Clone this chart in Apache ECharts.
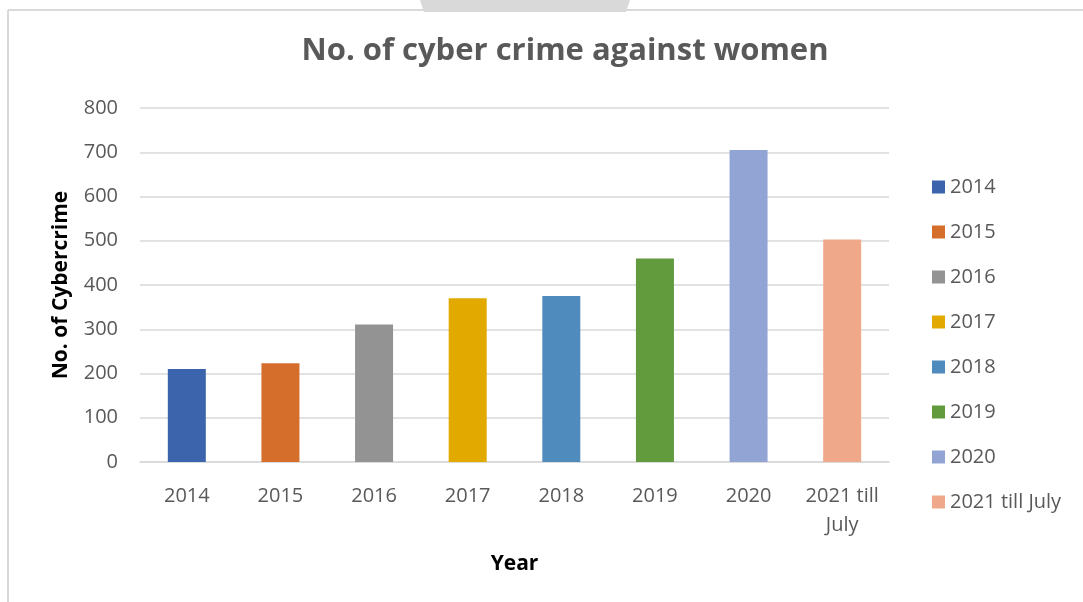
<!DOCTYPE html>
<html><head><meta charset="utf-8">
<script src="https://cdn.jsdelivr.net/npm/echarts@6/dist/echarts.min.js"></script>
<style>html,body{margin:0;padding:0;background:#fff}#c{width:1083px;height:602px}</style>
</head><body><div id="c"></div>
<script>
const categories = ['2014','2015','2016','2017','2018','2019','2020','2021 till July'];
const axisLabels = ['2014','2015','2016','2017','2018','2019','2020','2021 till\nJuly'];
const values = [210, 223, 311, 370, 375, 460, 705, 503];
const colors = ['#3C64AC','#D46E2A','#939393','#E2AA00','#508BBE','#629A3E','#91A4D4','#F0A88A'];
const yTicks = [0,100,200,300,400,500,600,700,800];

const font = '"Open Sans", "Noto Sans", sans-serif';
const series = categories.map((name, i) => ({
  name: name,
  type: 'bar',
  stack: 'all',
  barWidth: 38,
  itemStyle: { color: colors[i] },
  data: categories.map((c, j) => j === i ? values[i] : null)
}));

const chart = echarts.init(document.getElementById('c'));
chart.setOption({
  animation: false,
  backgroundColor: '#fff',
  title: {
    text: 'No. of cyber crime against women',
    left: 560, top: 31, textAlign: 'center',
    textStyle: { fontFamily: font, fontSize: 31, fontWeight: 'bold', color: '#595959' }
  },
  graphic: [
    { type: 'polygon', shape: { points: [[420,0],[630,0],[626,12],[424,12]] }, style: { fill: '#D9D9D9' }, z: -1 },
    { type: 'line', shape: { x1: 8, y1: 10, x2: 1083, y2: 10 }, style: { stroke: '#D9D9D9', lineWidth: 2 } },
    { type: 'line', shape: { x1: 8, y1: 10, x2: 8, y2: 602 }, style: { stroke: '#D9D9D9', lineWidth: 2 } }
  ],
  legend: {
    orient: 'vertical', left: 927, top: 172, itemGap: 25,
    itemWidth: 13, itemHeight: 13, icon: 'rect',
    data: categories,
    textStyle: { fontFamily: font, fontSize: 20, color: '#595959' }
  },
  grid: { left: 140, right: 194, top: 108, bottom: 140 },
  xAxis: {
    type: 'category', data: categories,
    name: 'Year', nameLocation: 'middle', nameGap: 92,
    nameTextStyle: { fontFamily: font, fontSize: 21, fontWeight: 'bold', color: '#000' },
    axisLine: { lineStyle: { color: '#D9D9D9', width: 1.5 } },
    axisTick: { show: false },
    axisLabel: { interval: 0, fontFamily: font, fontSize: 20, color: '#595959', margin: 20, lineHeight: 29,
      formatter: (v, i) => axisLabels[i] }
  },
  yAxis: {
    type: 'value', min: yTicks[0], max: yTicks[yTicks.length-1], interval: 100,
    name: 'No. of Cybercrime', nameLocation: 'middle', nameGap: 68, nameRotate: 90,
    nameTextStyle: { fontFamily: font, fontSize: 21, fontWeight: 'bold', color: '#000' },
    axisLine: { show: false }, axisTick: { show: false },
    axisLabel: { fontFamily: font, fontSize: 20, color: '#595959', margin: 22 },
    splitLine: { lineStyle: { color: '#D9D9D9', width: 1.5 } }
  },
  series: series
});
</script></body></html>
